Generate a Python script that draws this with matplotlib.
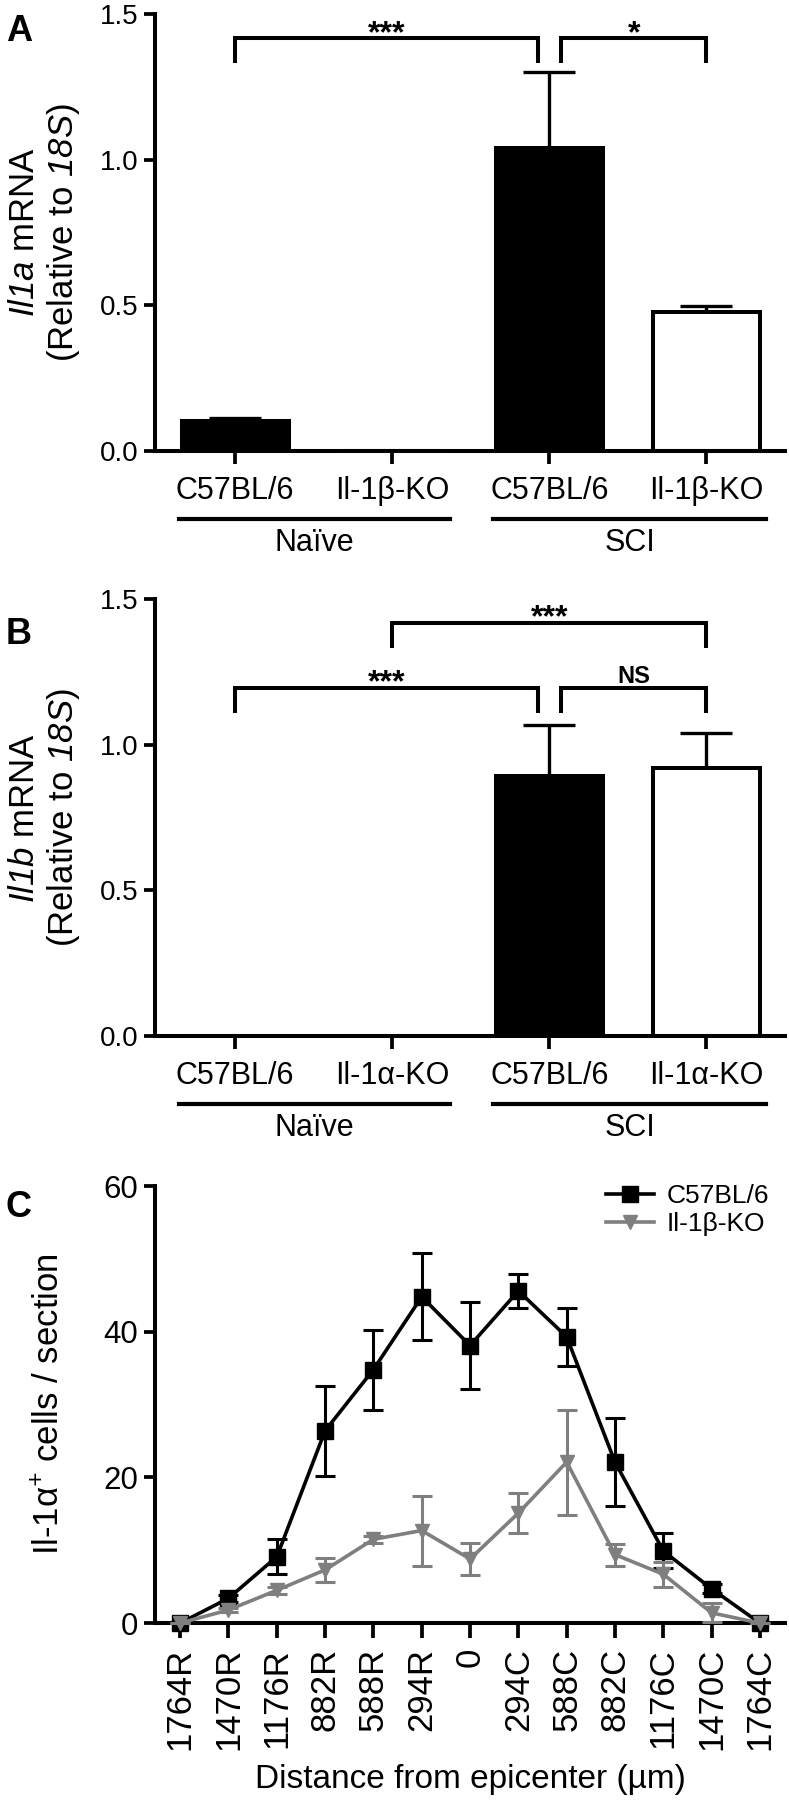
import matplotlib

matplotlib.use("Agg")

import matplotlib.pyplot as plt
from matplotlib.lines import Line2D

plt.rcParams.update(
    {
        "font.family": ["Liberation Sans", "DejaVu Sans"],
        "mathtext.fontset": "custom",
        # math is only used for the italic gene names, so roman is italic too
        "mathtext.rm": "Liberation Sans:italic",
        "mathtext.it": "Liberation Sans:italic",
        "axes.linewidth": 2.9,
        "xtick.major.width": 2.7,
        "ytick.major.width": 2.7,
        "text.color": "black",
    }
)

# panel A: Il1a mRNA
groups_a = ["C57BL/6", "Il-1β-KO", "C57BL/6", "Il-1β-KO"]
il1a_mean = [0.103, 0.0, 1.04, 0.475]
il1a_err = [0.01, 0.0, 0.26, 0.021]

# panel B: Il1b mRNA
groups_b = ["C57BL/6", "Il-1α-KO", "C57BL/6", "Il-1α-KO"]
il1b_mean = [0.0, 0.0, 0.892, 0.920]
il1b_err = [0.0, 0.0, 0.176, 0.121]

bar_colors = ["black", "white", "black", "white"]
cohorts = ["Naïve", "SCI"]

# panel C: Il-1a+ cells per section
distances = ["1764R", "1470R", "1176R", "882R", "588R", "294R", "0",
             "294C", "588C", "882C", "1176C", "1470C", "1764C"]
wt_mean = [0.0, 3.4, 9.1, 26.4, 34.8, 44.8, 38.1, 45.6, 39.3, 22.1, 9.9, 4.7, 0.0]
wt_err = [0.0, 0.5, 2.4, 6.2, 5.5, 6.0, 6.0, 2.3, 4.0, 6.0, 2.4, 0.6, 0.0]
ko_mean = [0.0, 1.8, 4.5, 7.3, 11.5, 12.7, 8.8, 15.1, 22.1, 9.4, 6.7, 1.4, 0.0]
ko_err = [0.0, 0.3, 0.5, 1.7, 0.5, 4.8, 2.2, 2.8, 7.2, 1.5, 1.7, 1.3, 0.0]

GREY = "#7f7f7f"

fig = plt.figure(figsize=(7.89, 18.0), dpi=100)
fig.patch.set_facecolor("white")

ax_a = fig.add_axes([0.1965, 0.7496, 0.7985, 0.2426])
ax_b = fig.add_axes([0.1965, 0.4246, 0.7985, 0.2424])
ax_c = fig.add_axes([0.1965, 0.0983, 0.7985, 0.2428])


def bracket(ax, x0, x1, y_top, y_low, label, size, lift):
    ax.plot([x0, x0, x1, x1], [y_low, y_top, y_top, y_low],
            color="black", lw=2.9, clip_on=False, solid_joinstyle="miter",
            solid_capstyle="butt")
    ax.text((x0 + x1) / 2, y_top + lift, label, ha="center", va="baseline",
            fontsize=size, fontweight="bold")


def bar_panel(ax, labels, means, errs, ylabel):
    x = list(range(len(labels)))
    ax.bar(x, means, width=0.68, color=bar_colors, edgecolor="black",
           linewidth=2.9, zorder=2)
    for xi, m, e in zip(x, means, errs):
        if m > 0:
            ax.errorbar(xi, m, yerr=[[0], [e]], color="black", elinewidth=2.4,
                        capsize=19, capthick=2.4, zorder=1)
    ax.set_xlim(-0.51, 3.5)
    ax.set_ylim(0, 1.5)
    ax.set_yticks([0.0, 0.5, 1.0, 1.5])
    ax.set_yticklabels(["0.0", "0.5", "1.0", "1.5"])
    ax.set_xticks(x)
    ax.set_xticklabels(labels)
    ax.spines[["top", "right"]].set_visible(False)
    ax.tick_params(axis="y", length=8, labelsize=20, pad=4)
    ax.tick_params(axis="x", length=9.5, labelsize=22, pad=9)
    trans = ax.get_xaxis_transform()
    for (lo, hi), name in zip([(-0.36, 1.37), (1.64, 3.38)], cohorts):
        ax.plot([lo, hi], [-0.157, -0.157], color="black", lw=3.0,
                transform=trans, clip_on=False)
        ax.text((lo + hi) / 2, -0.211, name, transform=trans, ha="center",
                va="center", fontsize=22)
    ax.text(-0.175, 0.5, ylabel, transform=ax.transAxes, rotation=90,
            ha="center", va="center", fontsize=25, multialignment="center",
            linespacing=1.15)


bar_panel(ax_a, groups_a, il1a_mean, il1a_err,
          "$Il1a$ mRNA\n(Relative to $18S$)")
bracket(ax_a, 0, 1.927, 1.4165, 1.333, "***", 23, -0.012)
bracket(ax_a, 2.077, 3, 1.4165, 1.333, "*", 23, -0.012)

bar_panel(ax_b, groups_b, il1b_mean, il1b_err,
          "$Il1b$ mRNA\n(Relative to $18S$)")
bracket(ax_b, 1, 3, 1.420, 1.334, "***", 23, -0.012)
bracket(ax_b, 0, 1.927, 1.197, 1.110, "***", 23, -0.012)
bracket(ax_b, 2.077, 3, 1.197, 1.110, "NS", 17, 0.016)

# panel C
xc = list(range(len(distances)))
ax_c.errorbar(xc, wt_mean, yerr=wt_err, color="black", lw=2.6, elinewidth=2.2,
              capsize=7, capthick=2.2, marker="s", markersize=11,
              clip_on=False, zorder=3)
ax_c.errorbar(xc, ko_mean, yerr=ko_err, color=GREY, lw=2.6, elinewidth=2.2,
              capsize=7, capthick=2.2, marker="v", markersize=10,
              clip_on=False, zorder=4)
ax_c.set_xlim(-0.52, 12.52)
ax_c.set_ylim(0, 60)
ax_c.set_yticks([0, 20, 40, 60])
ax_c.set_xticks(xc)
ax_c.set_xticklabels(distances, rotation=90)
ax_c.spines[["top", "right"]].set_visible(False)
ax_c.tick_params(axis="y", length=8, labelsize=22.5, pad=4)
ax_c.tick_params(axis="x", length=11, labelsize=25, pad=7)
ax_c.set_xlabel("Distance from epicenter (µm)", fontsize=24, labelpad=10)
ax_c.text(-0.168, 0.5, "Il-1α$^{+}$ cells / section", transform=ax_c.transAxes,
          rotation=90, ha="center", va="center", fontsize=25)
handles = [
    Line2D([], [], color="black", lw=2.6, marker="s", markersize=11),
    Line2D([], [], color=GREY, lw=2.6, marker="v", markersize=10),
]
ax_c.legend(handles, ["C57BL/6", "Il-1β-KO"], loc="upper right",
            frameon=False, fontsize=19, handlelength=1.8, handletextpad=0.5,
            labelspacing=0.15, borderaxespad=0.2, bbox_to_anchor=(1.0, 1.04))

for ax, letter, y in zip([ax_a, ax_b, ax_c], "ABC", [1.0, 0.96, 0.99]):
    ax.text(-0.237, y, letter, transform=ax.transAxes, ha="left", va="top",
            fontsize=26, fontweight="bold")

fig.savefig("out.png", dpi=100, facecolor="white")
